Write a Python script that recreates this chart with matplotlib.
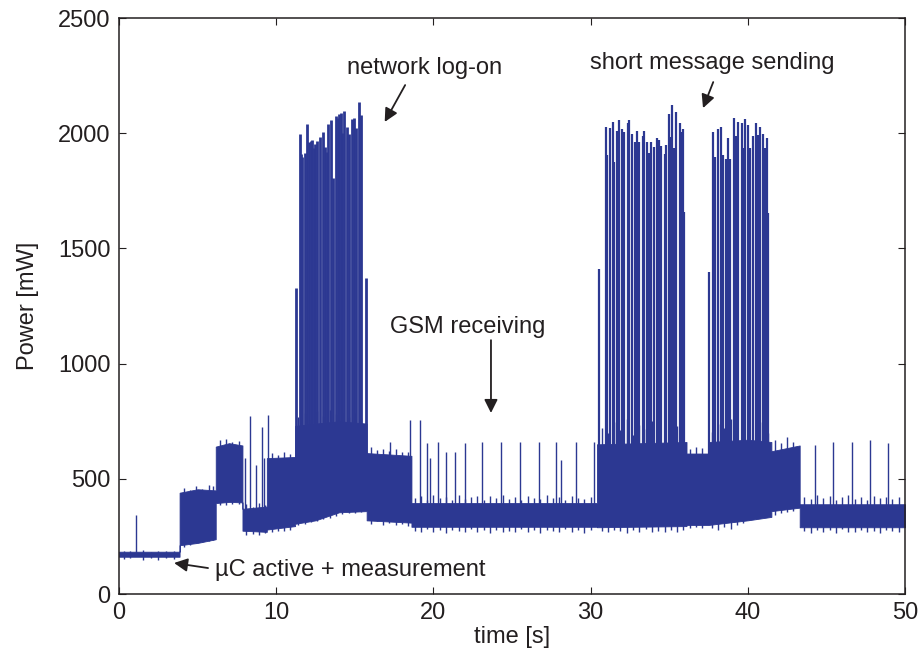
import matplotlib
matplotlib.use("Agg")
import matplotlib.pyplot as plt

BLUE = "#2c3892"
INK = "#231f20"

# Envelope of the dense power trace: time [s], lower and upper edge [mW]
band_time = [0.0, 3.85, 3.85, 5.0, 6.15, 6.15, 7.0, 7.85, 7.85, 9.4, 9.4, 11.2,
             11.2, 12.5, 14.0, 15.75, 15.75, 18.6, 18.6, 30.4, 30.4, 36.1,
             36.1, 37.5, 37.5, 40.0, 41.5, 41.5, 43.3, 43.3, 50.0]
band_low = [162, 162, 212, 222, 238, 395, 400, 398, 275, 270, 280, 295,
            305, 320, 355, 360, 320, 310, 292, 292, 290, 295,
            300, 300, 300, 320, 335, 360, 375, 290, 290]
band_high = [184, 184, 440, 455, 450, 640, 655, 645, 370, 380, 590, 595,
             730, 740, 750, 740, 612, 600, 395, 395, 650, 660,
             610, 610, 660, 670, 660, 620, 645, 390, 390]

# Noise excursions at the edges of the envelope: time [s], min and max [mW]
noise_time = [0.3, 0.7, 1.5, 2.0, 2.5, 3.0, 3.5,
              4.1, 4.5, 4.9, 5.3, 5.7, 6.0,
              6.4, 6.8, 7.2, 7.6,
              8.1, 8.5, 8.9, 9.3,
              9.7, 10.1, 10.5, 10.9,
              11.4, 11.8, 12.2, 12.6, 13.0, 13.4, 13.8, 14.2, 14.6, 15.0, 15.4,
              16.0, 16.4, 16.8, 17.2, 17.6, 18.0, 18.4,
              18.8, 19.2, 19.6, 20.0, 20.4, 20.8, 21.2, 21.6, 22.0, 22.4, 22.8,
              23.2, 23.6, 24.0, 24.4, 24.8, 25.2, 25.6, 26.0, 26.4, 26.8, 27.2,
              27.6, 28.0, 28.4, 28.8, 29.2, 29.6, 30.0,
              30.7, 31.1, 31.5, 31.9, 32.3, 32.7, 33.1, 33.5, 33.9, 34.3, 34.7,
              35.1, 35.5, 35.9,
              36.3, 36.7, 37.1,
              37.7, 38.1, 38.5, 38.9, 39.3, 39.7, 40.1, 40.5, 40.9, 41.3,
              41.7, 42.1, 42.5, 42.9,
              43.6, 44.0, 44.4, 44.8, 45.2, 45.6, 46.0, 46.4, 46.8, 47.2, 47.6,
              48.0, 48.4, 48.8, 49.2, 49.6]
noise_low = [152, 158, 150, 155, 148, 156, 153,
             205, 215, 220, 226, 230, 236,
             385, 388, 392, 390,
             258, 262, 255, 265,
             268, 275, 272, 280,
             300, 306, 312, 318, 325, 332, 340, 348, 350, 352, 355,
             305, 315, 300, 310, 298, 305, 295,
             275, 268, 282, 270, 278, 265, 280, 272, 268, 284, 270,
             276, 266, 280, 271, 275, 268, 282, 270, 277, 266, 279,
             272, 268, 281, 270, 276, 267, 279,
             275, 268, 280, 272, 266, 278, 270, 282, 268, 275, 270,
             280, 268, 276,
             288, 292, 285,
             285, 278, 290, 282, 300, 310, 320, 328, 335, 340,
             345, 350, 355, 362,
             272, 266, 280, 270, 276, 265, 281, 271, 268, 279, 270,
             275, 266, 280, 272, 268]
noise_high = [188, 185, 190, 183, 187, 186, 189,
              462, 450, 470, 455, 475, 468,
              668, 672, 660, 665,
              390, 380, 395, 385,
              612, 605, 615, 610,
              770, 785, 760, 795, 775, 800, 780, 790, 770, 785, 765,
              640, 625, 630, 620, 628, 618, 615,
              418, 425, 410, 430, 415, 422, 408, 428, 412, 420, 426,
              410, 424, 415, 430, 412, 420, 408, 426, 418, 412, 428,
              415, 422, 410, 425, 418, 413, 420,
              720, 700, 745, 710, 760, 690, 735, 715, 750, 700, 740,
              710, 730, 705,
              628, 640, 632,
              705, 740, 720, 760, 695, 735, 750, 710, 745, 700,
              668, 655, 680, 662,
              420, 412, 428, 415, 425, 408, 422, 430, 414, 420, 410,
              426, 415, 422, 412, 420]

# Transmit bursts during network log-on
logon_time = [11.24, 11.50, 11.58, 11.66, 11.83, 11.94, 12.07, 12.19, 12.30,
              12.40, 12.49, 12.58, 12.79, 12.96, 13.09, 13.21, 13.30, 13.47,
              13.59, 13.79, 13.91, 14.01, 14.10, 14.20, 14.29, 14.48, 14.61,
              14.80, 14.93, 15.10, 15.25, 15.41, 15.71]
logon_peak = [1328, 1995, 1908, 1898, 1913, 2039, 1960, 1968, 1970,
              1934, 1955, 1966, 1983, 2004, 1941, 1920, 2039, 2057,
              1804, 2075, 2065, 2082, 2086, 2000, 2096, 2028, 1995,
              2062, 2068, 2024, 2134, 2079, 1371]

# Transmit bursts while sending the two short messages
sms_time = [30.55, 30.96, 31.04, 31.22, 31.42, 31.51, 31.66, 31.81, 31.98,
            32.12, 32.36, 32.46, 32.61, 32.82, 32.93, 33.10, 33.31, 33.40,
            33.57, 33.73, 33.84, 34.01, 34.22, 34.35, 34.50, 34.73, 34.80,
            34.99, 35.07, 35.20, 35.31, 35.43, 35.67, 35.77, 35.90, 35.96,
            37.55, 37.81, 37.91, 38.12, 38.30, 38.42, 38.61, 38.76, 38.89,
            39.10, 39.27, 39.40, 39.61, 39.71, 39.82, 40.03, 40.14, 40.31,
            40.54, 40.67, 40.78, 40.99, 41.09, 41.24, 41.30]
sms_peak = [1409, 2028, 1905, 2024, 2050, 1875, 2010, 2057, 2020,
            2005, 2043, 2057, 1995, 1960, 2010, 1963, 1989, 2011,
            1963, 1913, 1963, 1941, 1981, 1970, 1945, 1908, 1948,
            2082, 1985, 2122, 1934, 2093, 2043, 2005, 2020, 1659,
            1399, 2004, 1898, 2018, 2028, 1905, 1890, 1978, 1890,
            2068, 1989, 2050, 2046, 1934, 2062, 2035, 1937, 1989,
            2043, 1992, 2028, 1995, 1934, 1981, 1652]

# Isolated paging / receive peaks
idle_time = [8.0, 8.33, 8.7, 9.08, 9.2, 9.46, 17.24, 18.5, 19.15, 19.6, 19.8,
             20.3, 20.8, 21.4, 22.0, 23.1, 24.3, 25.5, 26.7, 27.8, 28.1,
             29.1, 30.2, 44.3, 45.4, 46.6, 47.8, 48.9]
idle_peak = [590, 773, 560, 725, 590, 777, 661, 755, 755, 655, 590,
             661, 618, 618, 655, 661, 661, 661, 661, 661, 581,
             661, 661, 646, 661, 661, 668, 655]

# Short blip during the first seconds
startup_time = [1.1]
startup_peak = [343]

plt.rcParams["font.family"] = ["Liberation Sans", "DejaVu Sans"]

fig = plt.figure(figsize=(9.23, 6.55), dpi=100)
ax = fig.add_axes([0.129, 0.093, 0.8515, 0.8795])

ax.fill_between(band_time, band_low, band_high, color=BLUE, linewidth=0.6)
ax.vlines(noise_time, noise_low, noise_high, color=BLUE, linewidth=1.0)
ax.vlines(logon_time, 400, logon_peak, color=BLUE, linewidth=2.0)
ax.vlines(sms_time, 400, sms_peak, color=BLUE, linewidth=1.6)
ax.vlines(idle_time, 340, idle_peak, color=BLUE, linewidth=1.0)
ax.vlines(startup_time, 175, startup_peak, color=BLUE, linewidth=1.0)

ax.set_xlim(0, 50)
ax.set_ylim(0, 2500)
ax.set_xticks(range(0, 51, 10))
ax.set_yticks(range(0, 2501, 500))
ax.tick_params(direction="in", length=5, width=0.8, top=True, right=True,
               labelsize=17, colors=INK, pad=6)
for spine in ax.spines.values():
    spine.set_color(INK)
    spine.set_linewidth(1.1)

ax.set_xlabel("time [s]", fontsize=17, color=INK, labelpad=1)
ax.set_ylabel("Power [mW]", fontsize=17, color=INK, labelpad=14)

arrow = dict(arrowstyle="-|>", color=INK, lw=1.3, mutation_scale=20,
             shrinkA=0, shrinkB=0)
text_style = dict(fontsize=17, color=INK, va="center", ha="left")

ax.text(14.5, 2285, "network log-on", **text_style)
ax.annotate("", xy=(16.9, 2049), xytext=(18.2, 2209), arrowprops=arrow)

ax.text(29.96, 2305, "short message sending", **text_style)
ax.annotate("", xy=(37.15, 2109), xytext=(37.8, 2222), arrowprops=arrow)

ax.text(17.24, 1159, "GSM receiving", **text_style)
ax.annotate("", xy=(23.66, 786), xytext=(23.66, 1102), arrowprops=arrow)

ax.text(6.1, 104, "\u00b5C active + measurement", **text_style)
ax.annotate("", xy=(3.5, 135), xytext=(5.66, 113), arrowprops=arrow)

fig.savefig("out.png", dpi=100)
